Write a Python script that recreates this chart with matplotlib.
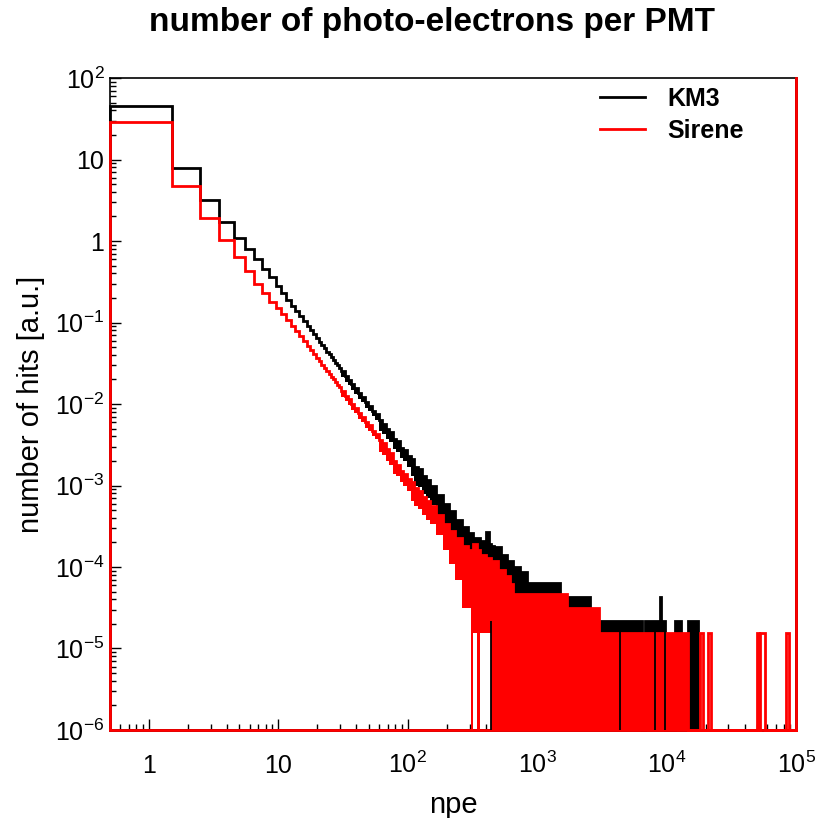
import numpy as np
import matplotlib.pyplot as plt
from matplotlib.lines import Line2D
from matplotlib.ticker import LogLocator, FixedFormatter, FixedLocator, NullFormatter

plt.rcParams['font.family'] = ['Liberation Sans', 'DejaVu Sans']
plt.rcParams['mathtext.default'] = 'regular'

# one bin per photo-electron, npe = 1 .. 30
unit_npe = np.arange(1, 31)
km3_unit = [46, 7.8, 3.2, 1.72, 1.08, 0.80, 0.61, 0.46, 0.36, 0.28,
            0.228, 0.19, 0.160, 0.138, 0.119, 0.104, 0.091, 0.081, 0.072, 0.064,
            0.058, 0.053, 0.048, 0.044, 0.041, 0.038, 0.035, 0.032, 0.030, 0.028]
sirene_unit = [29, 4.8, 1.9, 1.03, 0.64, 0.43, 0.30, 0.23, 0.18, 0.150,
               0.126, 0.107, 0.091, 0.079, 0.068, 0.059, 0.052, 0.046, 0.041, 0.037,
               0.0335, 0.0305, 0.0278, 0.0255, 0.0234, 0.0216, 0.0200, 0.0185, 0.0172, 0.0160]

# above 30 npe the bins are too narrow to show one by one:
# ranges of bins with the highest and lowest bin content inside each range
km3_edges = [30.5, 32.5, 34.5, 36.5, 38.5, 41.5, 43.5, 46.5, 49.5, 52.5, 55.5,
             59.5, 63.5, 67.5, 71.5, 76.5, 81.5, 86.5, 92.5, 98.5, 105.5,
             112.5, 120.5, 128.5, 137.5, 148.5, 166.5, 186.5, 208.5, 233.5, 260.5,
             290.5, 320.5, 360.5, 400.5, 420.5, 437.5, 460.5, 520.5, 580.5, 650.5,
             730.5, 830.5, 950.5, 1500.5, 2550.5, 6450.5, 6800.5, 8850.5, 9050.5, 9730.5,
             11700.5, 12900.5, 14500.5, 17500.5, 100000]
km3_hi = [0.0253, 0.0221, 0.0199, 0.0176, 0.0156, 0.0136, 0.0123, 0.0106, 0.0095, 0.0083,
          0.0075, 0.0063, 0.0057, 0.0049, 0.0045, 0.0037, 0.0035, 0.0029, 0.0027, 0.0023,
          0.0021, 0.0017, 0.0016, 0.0013, 0.00118,
          0.00098, 0.00076, 0.00060, 0.00049, 0.00038, 0.00031, 0.00026, 0.00023, 0.00021, 0.00027,
          0.00019, 0.00018, 0.000175, 0.00014, 0.00012, 0.00010, 8.6e-5, 6.4e-5, 6.4e-5, 4.3e-5,
          2.15e-5, 0, 2.15e-5, 4.3e-5, 2.15e-5, 0, 2.15e-5, 0, 2.15e-5, 0]
km3_lo = [0.0215, 0.0188, 0.0169, 0.0150, 0.0133, 0.0116, 0.0105, 0.0090, 0.0081, 0.0071,
          0.0064, 0.0047, 0.0043, 0.0037, 0.0034, 0.0028, 0.0026, 0.0022, 0.0020, 0.0017,
          0.0013, 0.0010, 0.00096, 0.00078, 0.00071,
          0.00058, 0.00043, 0.00032, 0.00024, 0.00016, 0.00011, 8.6e-5, 6.4e-5, 4.3e-5, 4.3e-5,
          4.3e-5, 0, 0, 0, 0, 0, 0, 0, 0, 0,
          0, 0, 0, 0, 0, 0, 0, 0, 0, 0]

sirene_edges = [30.5, 32.5, 34.5, 36.5, 38.5, 41.5, 43.5, 46.5, 49.5, 52.5, 55.5,
                59.5, 63.5, 67.5, 71.5, 76.5, 81.5, 86.5, 92.5, 98.5, 105.5,
                112.5, 120.5, 128.5, 137.5, 148.5, 166.5, 186.5, 208.5, 233.5, 260.5,
                290.5, 305.5, 318.5, 345.5, 360.5, 400.5, 437.5, 500.5, 560.5, 620.5,
                650.5, 1700.5, 2990.5, 14660.5, 18100.5, 19100.5, 20800.5, 22000.5, 50000.5, 52000.5,
                53000.5, 58000.5, 83000.5, 88000.5, 100000]
sirene_hi = [0.0145, 0.0127, 0.0114, 0.0100, 0.0090, 0.0077, 0.0070, 0.0060, 0.0055, 0.0047,
             0.0043, 0.0036, 0.0033, 0.0028, 0.0025, 0.0020, 0.0018, 0.0015, 0.00138, 0.00120,
             0.00109, 0.00094, 0.00085, 0.00073, 0.00064,
             0.00056, 0.00044, 0.00034, 0.00028, 0.00023, 0.00018, 0.00016, 0.00014, 0.00019, 0.00016,
             0.00014, 0.00013, 0.00012, 9.3e-5, 7.8e-5, 6.2e-5, 4.65e-5, 3.1e-5, 1.55e-5, 0,
             1.55e-5, 0, 1.55e-5, 0, 1.55e-5, 0, 1.55e-5, 0, 1.55e-5, 0]
sirene_lo = [0.0123, 0.0108, 0.0097, 0.0085, 0.0077, 0.0065, 0.0060, 0.0051, 0.0047, 0.0040,
             0.0037, 0.0026, 0.0024, 0.0020, 0.0018, 0.0014, 0.0013, 0.0011, 0.0010, 0.00086,
             0.00065, 0.00056, 0.00051, 0.00044, 0.00038,
             0.00034, 0.00025, 0.00016, 0.00011, 6.9e-5, 3.1e-5, 3.1e-5, 0, 1.55e-5, 0,
             1.55e-5, 1.55e-5, 0, 0, 0, 0, 0, 0, 0, 0,
             1.55e-5, 0, 1.55e-5, 0, 1.55e-5, 0, 1.55e-5, 0, 1.55e-5, 0]

# content of a single hit, and lone empty KM3 bins inside the Sirene band
km3_one_hit = 2.15e-5
km3_empty = [437, 4365, 8148, 9729]

xmin, xmax = 0.5, 1e5
ymin, ymax = 1e-6, 1e2

fig = plt.figure(figsize=(8.21, 8.18), dpi=100)
ax = fig.add_axes([0.134, 0.1076, 0.8356, 0.797])
ax.set_xscale('log')
ax.set_yscale('log')
ax.set_xlim(xmin, xmax)
ax.set_ylim(ymin, ymax)

lw = 2.0


def draw_hist(unit, edges, hi, lo, color):
    e = np.concatenate([unit_npe - 0.5, edges])
    top = np.array(list(unit) + list(hi), float)
    bot = np.array(list(unit) + list(lo), float)
    top = np.where(top > 0, top, ymin)
    bot = np.where(bot > 0, bot, ymin)
    ax.fill_between(e, np.append(bot, bot[-1]), np.append(top, top[-1]),
                    step='post', color=color, lw=0, zorder=3)
    ax.stairs(top, e, baseline=ymin, color=color, lw=lw, zorder=3, clip_on=False)
    ax.axhline(ymin, color=color, lw=lw, zorder=3, clip_on=False)
    ax.axvline(e[-1], color=color, lw=lw, zorder=3, clip_on=False)


draw_hist(km3_unit, km3_edges, km3_hi, km3_lo, 'black')
draw_hist(sirene_unit, sirene_edges, sirene_hi, sirene_lo, 'red')
ax.vlines(km3_empty, ymin, km3_one_hit, color='black', lw=1.3, zorder=4)

# ticks: inside, bottom and left only
ax.tick_params(which='both', direction='in', top=False, right=False, width=1.0)
ax.tick_params(which='major', length=8, labelsize=18)
ax.tick_params(which='minor', length=4)
ax.tick_params(axis='x', pad=31)
ax.tick_params(axis='y', pad=4)

xt = [1, 10, 1e2, 1e3, 1e4, 1e5]
xl = ['1', '10', '$10^{2}$', '$10^{3}$', '$10^{4}$', '$10^{5}$']
ax.xaxis.set_major_locator(FixedLocator(xt))
ax.xaxis.set_major_formatter(FixedFormatter(xl))
ax.xaxis.set_minor_locator(LogLocator(base=10, subs=np.arange(2, 10), numticks=20))
ax.xaxis.set_minor_formatter(NullFormatter())

yt = [1e-6, 1e-5, 1e-4, 1e-3, 1e-2, 1e-1, 1, 10, 1e2]
yl = ['$10^{-6}$', '$10^{-5}$', '$10^{-4}$', '$10^{-3}$', '$10^{-2}$', '$10^{-1}$',
      '1', '10', '$10^{2}$']
ax.yaxis.set_major_locator(FixedLocator(yt))
ax.yaxis.set_major_formatter(FixedFormatter(yl))
ax.yaxis.set_minor_locator(LogLocator(base=10, subs=np.arange(2, 10), numticks=20))
ax.yaxis.set_minor_formatter(NullFormatter())

for lab in ax.get_xticklabels():
    lab.set_verticalalignment('baseline')
for lab in ax.get_yticklabels():
    lab.set_verticalalignment('center_baseline')

for s in ax.spines.values():
    s.set_linewidth(1.2)

ax.set_xlabel('npe', fontsize=21)
ax.xaxis.set_label_coords(0.5, -0.093)
ax.set_ylabel('number of hits [a.u.]', fontsize=21)
ax.yaxis.set_label_coords(-0.095, 0.5)

fig.text(0.526, 0.972, 'number of photo-electrons per PMT', fontsize=24,
         fontweight='bold', ha='center', va='center')

handles = [Line2D([], [], color='black', lw=lw), Line2D([], [], color='red', lw=lw)]
leg = ax.legend(handles, ['KM3', 'Sirene'], loc='upper left', bbox_to_anchor=(0.714, 0.986),
                frameon=False, prop={'weight': 'bold', 'size': 18}, handlelength=1.8,
                handletextpad=0.9, labelspacing=0.3, borderpad=0, borderaxespad=0)

fig.savefig('out.png', dpi=100)
